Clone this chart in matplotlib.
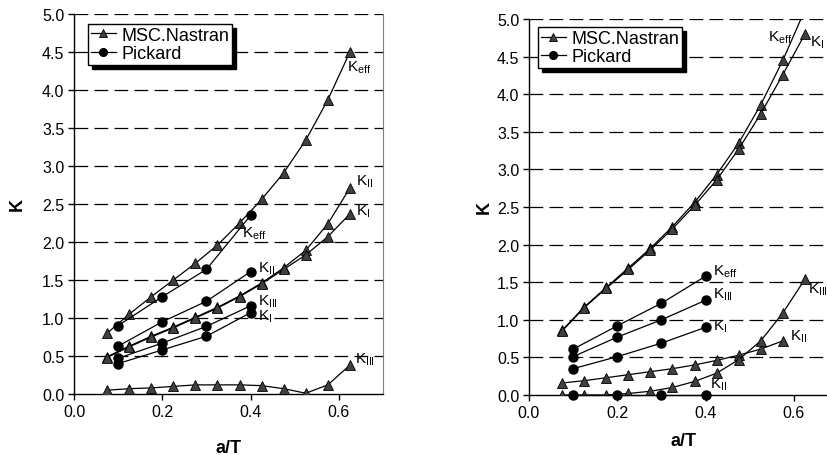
import matplotlib
matplotlib.use("Agg")
import matplotlib.pyplot as plt

plt.rcParams['font.family'] = ['Liberation Sans', 'DejaVu Sans']
plt.rcParams['mathtext.fontset'] = 'custom'
plt.rcParams['mathtext.rm'] = 'Liberation Sans'
plt.rcParams['mathtext.it'] = 'Liberation Sans:italic'
plt.rcParams['mathtext.bf'] = 'Liberation Sans:bold'

# a/T positions
x_nas = [0.075, 0.125, 0.175, 0.225, 0.275, 0.325, 0.375, 0.425, 0.475, 0.525, 0.575, 0.625]
x_pick = [0.1, 0.2, 0.3, 0.4]

# left chart - MSC.Nastran
L_nas_keff = [0.80, 1.05, 1.28, 1.50, 1.72, 1.96, 2.25, 2.56, 2.91, 3.34, 3.87, 4.50]
L_nas_k2 = [0.49, 0.63, 0.76, 0.88, 1.01, 1.14, 1.29, 1.46, 1.66, 1.89, 2.24, 2.71]
L_nas_k1 = [0.48, 0.62, 0.75, 0.87, 1.00, 1.13, 1.28, 1.45, 1.64, 1.83, 2.07, 2.37]
L_nas_k3 = [0.05, 0.07, 0.08, 0.10, 0.12, 0.12, 0.12, 0.11, 0.07, 0.01, 0.12, 0.38]
# left chart - Pickard
L_pick_keff = [0.90, 1.28, 1.64, 2.35]
L_pick_k2 = [0.63, 0.95, 1.22, 1.61]
L_pick_k3 = [0.47, 0.67, 0.89, 1.16]
L_pick_k1 = [0.40, 0.58, 0.76, 1.07]

# right chart - MSC.Nastran
R_nas_keff = [0.86, 1.17, 1.43, 1.69, 1.95, 2.24, 2.56, 2.93, 3.35, 3.86, 4.45, 5.12]
R_nas_k1 = [0.85, 1.16, 1.42, 1.67, 1.93, 2.21, 2.52, 2.86, 3.27, 3.74, 4.26, 4.80]
R_nas_k2 = [0.16, 0.19, 0.23, 0.27, 0.31, 0.35, 0.40, 0.46, 0.53, 0.61, 0.72]
R_nas_k3 = [0.00, 0.00, 0.00, 0.02, 0.05, 0.10, 0.18, 0.29, 0.47, 0.72, 1.09, 1.54]
# right chart - Pickard
R_pick_keff = [0.61, 0.92, 1.22, 1.58]
R_pick_k3 = [0.51, 0.77, 1.00, 1.26]
R_pick_k1 = [0.35, 0.51, 0.69, 0.90]
R_pick_k2 = [0.0, 0.0, 0.0, 0.0]

KEFF = r'K$_{\rm eff}$'
KI = r'K$_{\rm I}$'
KII = r'K$_{\rm II}$'
KIII = r'K$_{\rm III}$'

tri = dict(color='black', lw=0.9, marker='^', markersize=6.5,
           markerfacecolor='#404040', markeredgecolor='black', markeredgewidth=0.6)
dot = dict(color='black', lw=0.9, marker='o', markersize=6.5,
           markerfacecolor='black', markeredgecolor='black')

fig = plt.figure(figsize=(8.27, 4.56), dpi=100)
axL = fig.add_axes([74/827, 61/456, 309/827, 380/456])
axR = fig.add_axes([529/827, 60/456, 309/827, 376/456])


def style(ax, legend_xy, ylab_x, xlab_y):
    ax.set_xlim(0, 0.7)
    ax.set_ylim(0, 5.0)
    ax.set_xticks([0.0, 0.2, 0.4, 0.6])
    ax.set_xticklabels(['0.0', '0.2', '0.4', '0.6'])
    ax.set_yticks([i * 0.5 for i in range(11)])
    ax.set_yticklabels(['%.1f' % (i * 0.5) for i in range(11)])
    ax.tick_params(direction='out', length=4, width=1, labelsize=11.5, colors='black', pad=3)
    # dashed horizontal grid
    for y in [i * 0.5 for i in range(1, 11)]:
        ax.axhline(y, color='black', lw=0.9, linestyle=(0, (11, 5)), zorder=0.5)
    ax.spines['top'].set_visible(False)
    ax.spines['right'].set_color('#808080')
    ax.spines['left'].set_linewidth(1)
    ax.spines['bottom'].set_linewidth(1)
    ax.set_xlabel('a/T', fontsize=13, fontweight='bold', va='center', ha='center')
    ax.set_ylabel('K', fontsize=13, fontweight='bold', rotation=90, va='center', ha='center')
    ax.yaxis.set_label_coords(ylab_x, 0.5)
    ax.xaxis.set_label_coords(0.5, xlab_y)
    leg = ax.legend(loc='upper left', bbox_to_anchor=legend_xy, borderaxespad=0,
                    fontsize=13, frameon=True, fancybox=False,
                    shadow={'color': 'black', 'alpha': 1, 'ox': 3, 'oy': -3},
                    handlelength=1.4, handletextpad=0.3, borderpad=0.15, labelspacing=0.08,
                    markerscale=0.85)
    leg.get_frame().set_edgecolor('black')
    leg.get_frame().set_linewidth(1)
    leg.set_zorder(10)


def label(ax, xs, ys, text, dx, dy):
    # text next to the last point of a series, offset in pixels
    ax.annotate(text, xy=(xs[len(ys) - 1], ys[-1]), xytext=(dx, -dy), textcoords='offset pixels',
                fontsize=11, ha='left', va='center', annotation_clip=False, zorder=6)


# left chart
axL.plot(x_nas, L_nas_keff, label='MSC.Nastran', zorder=3, **tri)
axL.plot(x_nas, L_nas_k2, zorder=3, **tri)
axL.plot(x_nas, L_nas_k1, zorder=3, **tri)
axL.plot(x_nas, L_nas_k3, zorder=3, **tri)
axL.plot(x_pick, L_pick_keff, label='Pickard', zorder=4, **dot)
axL.plot(x_pick, L_pick_k2, zorder=4, **dot)
axL.plot(x_pick, L_pick_k3, zorder=4, **dot)
axL.plot(x_pick, L_pick_k1, zorder=4, **dot)
style(axL, (0.045, 0.974), -0.184, -0.142)

label(axL, x_nas, L_nas_keff, KEFF, -3, 15)
label(axL, x_nas, L_nas_k2, KII, 6, -7)
label(axL, x_nas, L_nas_k1, KI, 6, -3)
label(axL, x_nas, L_nas_k3, KIII, 5, -6)
label(axL, x_pick, L_pick_keff, KEFF, -9, 17)
label(axL, x_pick, L_pick_k2, KII, 7, -4)
label(axL, x_pick, L_pick_k3, KIII, 7, -5)
label(axL, x_pick, L_pick_k1, KI, 7, 3)

# right chart
axR.plot(x_nas, R_nas_keff, label='MSC.Nastran', zorder=3, **tri)
axR.plot(x_nas, R_nas_k1, zorder=3, **tri)
axR.plot(x_nas[:len(R_nas_k2)], R_nas_k2, zorder=3, **tri)
axR.plot(x_nas, R_nas_k3, zorder=3, **tri)
axR.plot(x_pick, R_pick_keff, label='Pickard', zorder=4, **dot)
axR.plot(x_pick, R_pick_k3, zorder=4, **dot)
axR.plot(x_pick, R_pick_k1, zorder=4, **dot)
axR.plot(x_pick, R_pick_k2, zorder=4, clip_on=False, **dot)
style(axR, (0.029, 0.978), -0.146, -0.1215)

label(axR, x_nas, R_nas_keff[:-1], KEFF, -15, -24)
label(axR, x_nas, R_nas_k1, KI, 5, 8)
label(axR, x_nas, R_nas_k3, KIII, 3, 10)
label(axR, x_nas, R_nas_k2, KII, 7, -5)
label(axR, x_pick, R_pick_keff, KEFF, 7, -5)
label(axR, x_pick, R_pick_k3, KIII, 7, -6)
label(axR, x_pick, R_pick_k1, KI, 7, -2)
label(axR, x_pick, R_pick_k2, KII, 4, -11)

fig.savefig('out.png', dpi=100)
